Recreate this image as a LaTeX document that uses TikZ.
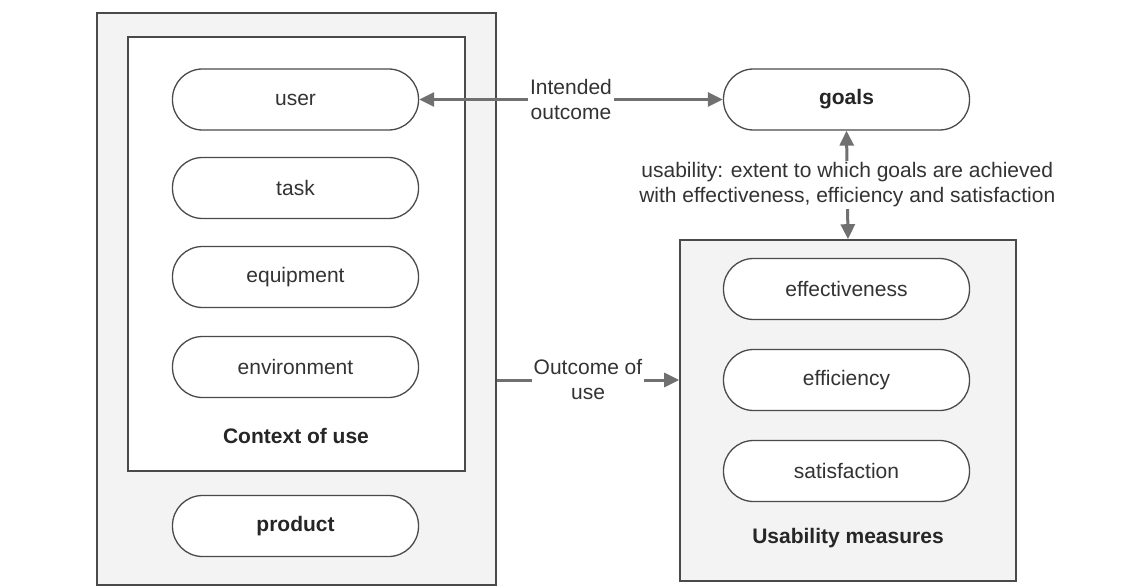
\documentclass[tikz,border=0pt]{standalone}
\usepackage{fontspec}
\setmainfont{Liberation Sans}
\usetikzlibrary{arrows.meta}
\definecolor{framegray}{HTML}{F3F3F3}
\definecolor{linegray}{HTML}{4A4A4A}
\definecolor{arrowgray}{HTML}{707070}
\definecolor{txtgray}{HTML}{333333}
\begin{document}
\begin{tikzpicture}[x=1pt,y=-1pt,
  frame/.style={draw=linegray, line width=1.6pt, inner sep=0pt},
  pill/.style={draw=linegray, line width=1.3pt, fill=white, rounded corners=30pt,
    minimum width=246pt, minimum height=61pt, inner sep=0pt,
    font=\fontsize{21}{25}\selectfont, text=txtgray},
  boldpill/.style={pill, font=\fontsize{21}{25}\selectfont\bfseries, text=black!85},
  boxlabel/.style={font=\fontsize{21}{25}\selectfont\bfseries, text=black!85},
  tip/.style={},
  conn/.style={draw=arrowgray, line width=3pt},
  lbl/.style={font=\fontsize{21}{25}\selectfont, text=txtgray, align=center, fill=white, inner sep=2pt}]
\useasboundingbox (0,0) rectangle (1143,588);

% left frame
\node[frame, fill=framegray, minimum width=399pt, minimum height=572pt] (prodframe) at (296.5,299) {};
\node[frame, fill=white, minimum width=337pt, minimum height=434pt] (ctxbox) at (296.5,254) {};
\node[pill] (user) at (295.5,99.5) {user};
\node[pill] (task) at (295.5,188) {task};
\node[pill] (equip) at (295.5,277) {equipment};
\node[pill] (env) at (295.5,367) {environment};
\node[boxlabel] (ctxlabel) at (296,436) {Context of use};
\node[boldpill] (product) at (295.5,526) {product};

% right side
\node[boldpill] (goals) at (846.5,99.5) {goals};
\node[frame, fill=framegray, minimum width=336pt, minimum height=341pt] (usebox) at (848,410.5) {};
\node[pill] (effect) at (846.5,289) {effectiveness};
\node[pill] (effic) at (846.5,380) {efficiency};
\node[pill] (satis) at (846.5,471) {satisfaction};
\node[boxlabel] (uselabel) at (848,538) {Usability measures};

% connectors
\draw[conn, {Triangle[length=15pt,width=14pt]}-{Triangle[length=15pt,width=14pt]}]
  (user.east) -- node[lbl] (intlbl) {Intended\\outcome} (goals.west);
\draw[conn, {Triangle[length=15pt,width=14pt]}-{Triangle[length=15pt,width=14pt]}]
  (goals.south) -- node[lbl] (usalbl) {usability: extent to which goals are achieved\\with effectiveness, efficiency and satisfaction} (usebox.north);
\coordinate (outA) at (prodframe.east |- effic);
\coordinate (outB) at (usebox.west |- effic);
\draw[conn, -{Triangle[length=15pt,width=14pt]}]
  (outA) -- node[lbl] (outlbl) {Outcome of\\use} (outB);
\end{tikzpicture}
\end{document}
